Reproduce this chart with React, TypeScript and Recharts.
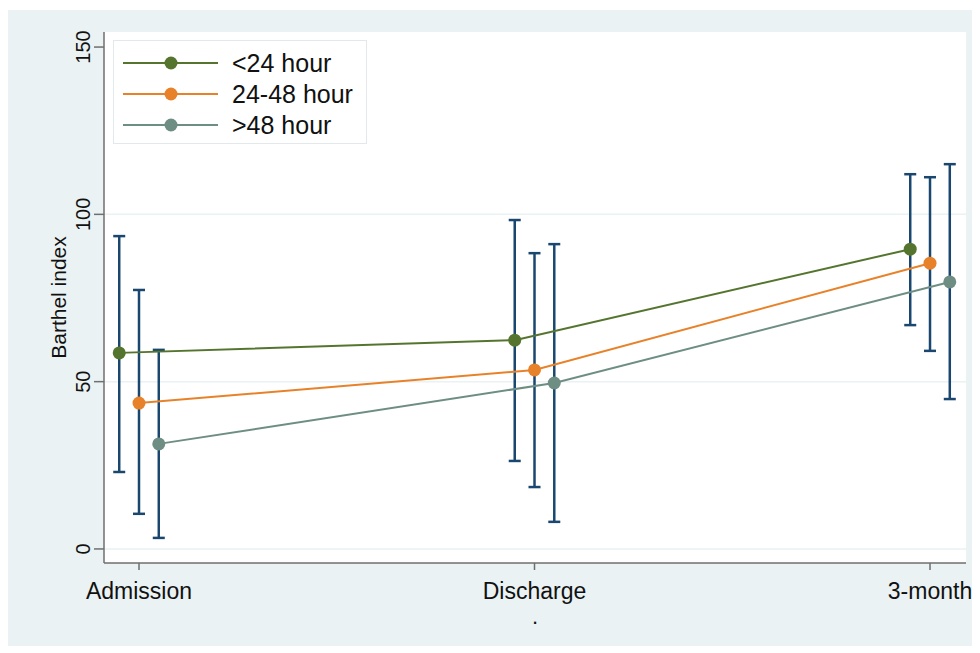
import {
  CartesianGrid,
  ComposedChart,
  ErrorBar,
  Legend,
  Scatter,
  XAxis,
  YAxis,
} from "recharts";

const timepoints = ["Admission", "Discharge", "3-month"];
const groups = ["<24 hour", "24-48 hour", ">48 hour"];
const colors = ["#55752f", "#e8822a", "#6e8e84"];

// mean Barthel index and the ends of each error bar
const meanUnder24 = [58.6, 62.4, 89.6];
const lowUnder24 = [23.0, 26.3, 66.9];
const highUnder24 = [93.5, 98.3, 112.0];

const mean24to48 = [43.6, 53.5, 85.4];
const low24to48 = [10.5, 18.5, 59.2];
const high24to48 = [77.4, 88.4, 111.1];

const meanOver48 = [31.4, 49.6, 79.8];
const lowOver48 = [3.3, 8.1, 44.8];
const highOver48 = [59.5, 91.1, 115.0];

const yTicks = [0, 50, 100, 150];

const means = [meanUnder24, mean24to48, meanOver48];
const lows = [lowUnder24, low24to48, lowOver48];
const highs = [highUnder24, high24to48, highOver48];
const dodge = [-0.05, 0, 0.05];

const series = groups.map((name, g) =>
  timepoints.map((_, i) => ({
    x: i + dodge[g],
    y: means[g][i],
    err: [means[g][i] - lows[g][i], highs[g][i] - means[g][i]],
  }))
);

const font = "'Liberation Sans', Arial, sans-serif";
const navy = "#1a476f";
const axisGray = "#6f6f6f";

function YTick(props: any) {
  const { x, y, payload } = props;
  return (
    <text
      x={x}
      y={y}
      transform={`rotate(-90, ${x}, ${y})`}
      textAnchor="middle"
      fontSize={20}
      fontFamily={font}
      fill="#111"
    >
      {payload.value}
    </text>
  );
}

function LegendBox() {
  return (
    <div
      style={{
        width: 252,
        height: 102,
        background: "#fff",
        border: "1px solid #e3e8ea",
        position: "relative",
        fontFamily: font,
      }}
    >
      {groups.map((name, g) => (
        <div
          key={name}
          style={{ position: "absolute", left: 0, top: 22 + g * 31 - 15, height: 30, width: 252 }}
        >
          <svg width={110} height={30} style={{ position: "absolute", left: 0, top: 0 }}>
            <line x1={9} x2={104} y1={15} y2={15} stroke={colors[g]} strokeWidth={2} />
            <circle cx={57} cy={15} r={6.5} fill={colors[g]} />
          </svg>
          <span
            style={{
              position: "absolute",
              left: 118,
              top: 0,
              lineHeight: "30px",
              fontSize: 25,
              color: "#111",
            }}
          >
            {name}
          </span>
        </div>
      ))}
    </div>
  );
}

export default function App() {
  return (
    <div
      style={{
        position: "relative",
        top: 2,
        width: 972,
        height: 638,
        background: "#eaf2f3",
      }}
    >
      <ComposedChart
        width={972}
        height={638}
        margin={{ top: 22, right: 14, bottom: 25, left: 26 }}
        style={{ overflow: "visible" }}
      >
        <CartesianGrid
          vertical={false}
          horizontalValues={[0, 50, 100]}
          stroke="#eaf2f3"
          strokeWidth={1.5}
          fill="#ffffff"
        />
        <XAxis
          dataKey="x"
          type="number"
          domain={[-0.0885, 2.091]}
          ticks={[0, 1, 2]}
          tickFormatter={(v: number) => timepoints[Math.round(v)]}
          allowDataOverflow
          height={60}
          tickSize={7}
          tickMargin={13}
          stroke={axisGray}
          strokeWidth={1.5}
          tick={{ fontSize: 23, fontFamily: font, fill: "#111" }}
          label={(props: any) => {
            const vb = props.viewBox;
            return (
              <text
                x={vb.x + vb.width / 2}
                y={vb.y + 61}
                textAnchor="middle"
                fontSize={22}
                fontFamily={font}
                fill="#111"
              >
                .
              </text>
            );
          }}
        />
        <YAxis
          dataKey="y"
          type="number"
          domain={[-4.2, 154.5]}
          ticks={yTicks}
          allowDataOverflow
          width={70}
          tickSize={10}
          tickMargin={4}
          stroke={axisGray}
          strokeWidth={1.5}
          tick={<YTick />}
          label={(props: any) => {
            const vb = props.viewBox;
            const cx = 50;
            const cy = vb.y + vb.height / 2;
            return (
              <text
                x={cx}
                y={cy}
                transform={`rotate(-90, ${cx}, ${cy})`}
                textAnchor="middle"
                dominantBaseline="central"
                fontSize={21}
                fontFamily={font}
                fill="#111"
              >
                Barthel index
              </text>
            );
          }}
        />
        <Legend
          layout="vertical"
          align="center"
          verticalAlign="middle"
          wrapperStyle={{ left: 105, top: 30, width: 254, height: 104 }}
          content={() => <LegendBox />}
        />
        {series.map((points, g) => (
          <Scatter
            key={groups[g]}
            name={groups[g]}
            data={points}
            dataKey="y"
            line={{ stroke: colors[g], strokeWidth: 2 }}
            lineType="joint"
            isAnimationActive={false}
            shape={(p: any) => <circle cx={p.cx} cy={p.cy} r={6.5} fill={colors[g]} />}
          >
            <ErrorBar
              dataKey="err"
              direction="y"
              width={6}
              stroke={navy}
              strokeWidth={2.5}
              isAnimationActive={false}
            />
          </Scatter>
        ))}
      </ComposedChart>
    </div>
  );
}
